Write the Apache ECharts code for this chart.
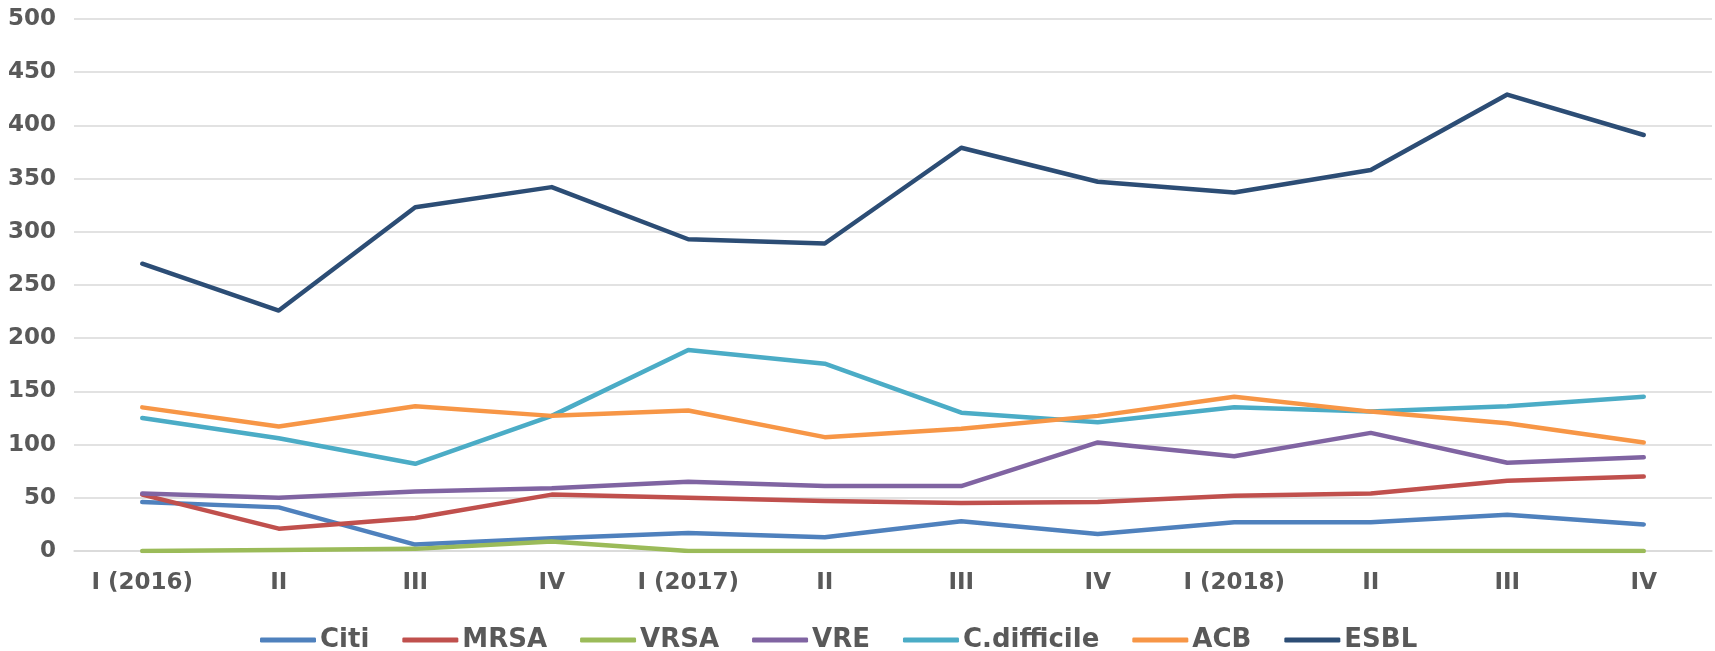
<!DOCTYPE html>
<html>
<head>
<meta charset="utf-8">
<script src="https://cdn.jsdelivr.net/npm/echarts@6/dist/echarts.min.js"></script>
<style>html,body{margin:0;padding:0;background:#fff}#c{width:1715px;height:651px}</style>
</head>
<body>
<div id="c"></div>
<script>
const categories = ['I (2016)', 'II', 'III', 'IV', 'I (2017)', 'II', 'III', 'IV', 'I (2018)', 'II', 'III', 'IV'];
const citi = [46, 41, 6, 12, 17, 13, 28, 16, 27, 27, 34, 25];
const mrsa = [53, 21, 31, 53, 50, 47, 45, 46, 52, 54, 66, 70];
const vrsa = [0, 1, 2, 9, 0, 0, 0, 0, 0, 0, 0, 0];
const vre = [54, 50, 56, 59, 65, 61, 61, 102, 89, 111, 83, 88];
const cdiff = [125, 106, 82, 127, 189, 176, 130, 121, 135, 131, 136, 145];
const acb = [135, 117, 136, 127, 132, 107, 115, 127, 145, 131, 120, 102];
const esbl = [270, 226, 323, 342, 293, 289, 379, 347, 337, 358, 429, 391];
const seriesNames = ['Citi', 'MRSA', 'VRSA', 'VRE', 'C.difficile', 'ACB', 'ESBL'];
const colors = ['#4F81BD', '#C0504D', '#9BBB59', '#8064A2', '#4BACC6', '#F79646', '#2C4D75'];
const values = [citi, mrsa, vrsa, vre, cdiff, acb, esbl];

const chart = echarts.init(document.getElementById('c'));
const font = 'DejaVu Sans';
chart.setOption({
  animation: false,
  color: colors,
  grid: { left: 74, right: 3, top: 19, bottom: 100, containLabel: false },
  legend: {
    top: 622,
    left: 255,
    icon: 'roundRect',
    itemWidth: 56,
    itemHeight: 5,
    itemGap: 33,
    textStyle: { fontFamily: font, fontWeight: 'bold', fontSize: 26, color: '#595959', padding: [0, 0, 0, -1] },
    data: seriesNames
  },
  xAxis: {
    type: 'category',
    data: categories,
    boundaryGap: true,
    axisLine: { show: true, lineStyle: { color: '#D9D9D9', width: 1.5 } },
    axisTick: { show: false },
    axisLabel: { fontFamily: font, fontWeight: 'bold', fontSize: 23, color: '#595959', margin: 21, interval: 0 }
  },
  yAxis: {
    type: 'value',
    min: 0, max: 500, interval: 50,
    axisLine: { show: false },
    axisTick: { show: false },
    splitLine: { lineStyle: { color: '#D9D9D9', width: 1.5 } },
    axisLabel: { fontFamily: font, fontWeight: 'bold', fontSize: 23, color: '#595959', margin: 18 }
  },
  series: seriesNames.map((n, i) => ({
    name: n,
    type: 'line',
    data: values[i],
    symbol: 'none',
    lineStyle: { width: 4.5, color: colors[i], cap: 'round', join: 'round' },
    itemStyle: { color: colors[i] }
  }))
});
</script>
</body>
</html>
